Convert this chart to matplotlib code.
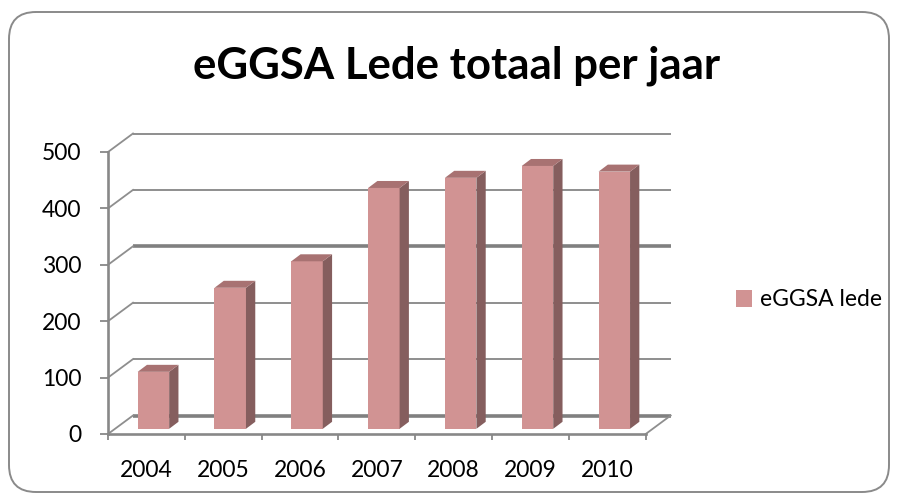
import matplotlib
matplotlib.use("Agg")
import matplotlib.pyplot as plt
from matplotlib.patches import Polygon, FancyBboxPatch, Patch

years = ["2004", "2005", "2006", "2007", "2008", "2009", "2010"]
members = [101, 250, 297, 427, 445, 466, 456]
yticks = [0, 100, 200, 300, 400, 500]
series_name = "eGGSA lede"
title = "eGGSA Lede totaal per jaar"

FRONT = "#D19393"
SIDE = "#855E5E"
TOP = "#A87272"
GRID = "#8E8E8E"

plt.rcParams['font.family'] = ['Lato', 'DejaVu Sans']

fig = plt.figure(figsize=(8.97, 5.0), dpi=100)
W, H = 897, 500
ax = fig.add_axes([108 / W, 66 / H, 537.7 / W, 282 / H])
n = len(years)
ax.set_xlim(-0.5, n - 0.5)
ax.set_ylim(0, 500)

bb = ax.get_window_extent()
sx = (n) / bb.width       # data units per px (x)
sy = 500 / bb.height      # data units per px (y)

# depth of wall and bar (in pixels)
WDX, WDY = 25, 18.5
BOX, BOY = 7, 5.2        # bar front offset
BDX, BDY = 9.3, 7.0      # bar depth

wdx, wdy = WDX * sx, WDY * sy
box, boy = BOX * sx, BOY * sy
bdx, bdy = BDX * sx, BDY * sy

# back wall gridlines + side-wall diagonals
for v in yticks:
    lw = 2.6 if v in (0, 300) else 1.4
    col = "#808080" if v in (0, 300) else GRID
    ax.plot([-0.5 + wdx, n - 0.5 + wdx], [v + wdy, v + wdy], color=col, lw=lw,
            clip_on=False, zorder=1, solid_capstyle='butt')
    ax.plot([-0.5, -0.5 + wdx], [v, v + wdy], color=GRID, lw=1.3,
            clip_on=False, zorder=1)
# floor right edge
ax.plot([n - 0.5, n - 0.5 + wdx], [0, wdy], color=GRID, lw=1.3, clip_on=False, zorder=1)

# bars
bw = 0.41
xs = list(range(n))
ax.bar([x + box for x in xs], members, width=bw, bottom=boy, color=FRONT,
       zorder=3, linewidth=0)
for x, v in zip(xs, members):
    xl = x - bw / 2 + box
    xr = x + bw / 2 + box
    yt = boy + v
    side = Polygon([(xr, boy), (xr + bdx, boy + bdy), (xr + bdx, yt + bdy), (xr, yt)],
                   closed=True, facecolor=SIDE, edgecolor='none', zorder=3, clip_on=False)
    top = Polygon([(xl, yt), (xr, yt), (xr + bdx, yt + bdy), (xl + bdx, yt + bdy)],
                  closed=True, facecolor=TOP, edgecolor='none', zorder=3, clip_on=False)
    ax.add_patch(side)
    ax.add_patch(top)

# axes styling
for s in ("top", "right"):
    ax.spines[s].set_visible(False)
for s in ("left", "bottom"):
    ax.spines[s].set_color("#888888")
    ax.spines[s].set_linewidth(1.9)
    ax.spines[s].set_zorder(4)
ax.set_yticks(yticks)
ax.set_yticklabels([str(t) for t in yticks])
ax.tick_params(axis='y', direction='out', length=5.8, width=1.3, color="#888888",
               pad=13.5, labelsize=16.5, labelcolor="black")
ax.set_xticks(xs)
ax.set_xticklabels(years)
ax.set_xticks([x - 0.5 for x in range(n + 1)], minor=True)
ax.tick_params(axis='x', which='major', length=0, pad=18.5, labelsize=16.5, labelcolor="black")
ax.tick_params(axis='x', which='minor', direction='out', length=4.5, width=1.3, color="#888888")
ax.patch.set_visible(False)

# title
fig.text(457 / W, 1 - 78 / H, title, ha='center', va='baseline',
         fontsize=31.5, fontweight='bold', color='black')

# legend
fig.legend(handles=[Patch(facecolor=FRONT, edgecolor='none')], labels=[series_name],
           loc='center left', bbox_to_anchor=(727 / W, 1 - 300 / H), frameon=False,
           fontsize=16.5, handlelength=0.7, handleheight=0.7, handletextpad=0.35,
           borderaxespad=0)

# chart border
border = FancyBboxPatch((0.09, 0.08), 8.80, 4.80,
                        boxstyle="round,pad=0,rounding_size=0.27",
                        transform=fig.dpi_scale_trans, facecolor='none',
                        edgecolor='#8A8A8A', linewidth=1.4, zorder=0)
fig.patches.append(border)

fig.savefig("out.png", dpi=100)
